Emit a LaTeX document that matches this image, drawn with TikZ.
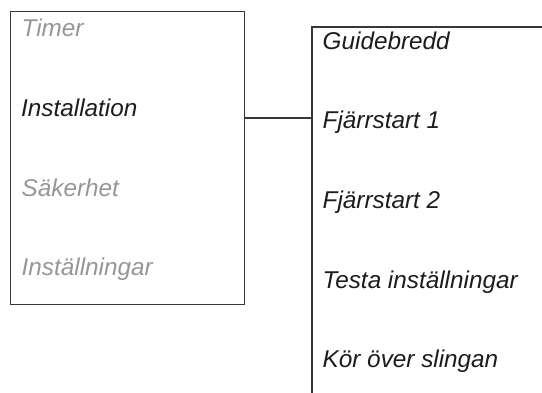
\documentclass[tikz,border=0pt]{standalone}
\usepackage{fontspec}
\setmainfont{Liberation Sans}
\definecolor{linec}{RGB}{55,55,55}
\definecolor{dimtext}{RGB}{150,150,152}
\definecolor{maintext}{RGB}{28,28,28}
\begin{document}
\begin{tikzpicture}[x=1pt,y=-1pt,
  item/.style={anchor=base west,inner sep=0pt,font=\fontsize{24.3}{28}\selectfont\itshape,text=maintext},
  dim/.style={item,text=dimtext},
  frame/.style={draw=linec,line width=1.2pt}]
\useasboundingbox (0,0) rectangle (542,393);
% left menu box
\node[frame,draw,inner sep=0pt,minimum width=234pt,minimum height=293.6pt,anchor=north west] (menu) at (9.5,10.7) {};
\node[dim] (timer) at (21.5,37) {Timer};
\node[item] (inst) at (21,117) {Installation};
\node[dim] (sak) at (21.5,196.5) {Säkerhet};
\node[dim] (instn) at (21.5,276) {Inställningar};
% right submenu
\coordinate (topR) at (542,27);
\coordinate (topL) at (312,27);
\coordinate (botL) at (312,393);
\coordinate (join) at (312,118);
\draw[frame] (topR) -- (topL) -- (botL);
\draw[frame] (menu.east |- join) -- (join);
\node[item] (g) at (322.5,49.3) {Guidebredd};
\node[item] (f1) at (322.5,129) {Fjärrstart 1};
\node[item] (f2) at (322.5,208.7) {Fjärrstart 2};
\node[item] (t) at (322.5,288.4) {Testa inställningar};
\node[item] (k) at (322.5,368) {Kör över slingan};
\end{tikzpicture}
\end{document}
